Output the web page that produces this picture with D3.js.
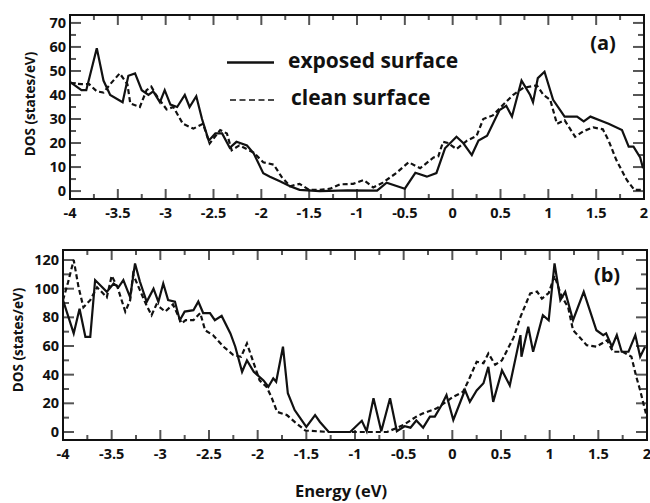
<!DOCTYPE html>
<html>
<head>
<meta charset="utf-8">
<script src="https://cdn.jsdelivr.net/npm/d3@7"></script>
<style>
  body { margin: 0; background: #fff; }
  text { font-family: "Open Sans", Lato, sans-serif; font-weight: bold; fill: #111; }
</style>
</head>
<body>
<div id="chart-area"></div>
<script>
// energy ticks shared by both panels
let energyTicks = [-4, -3.5, -3, -2.5, -2, -1.5, -1, -0.5, 0, 0.5, 1, 1.5, 2];

// panel (a): [energy, DOS]
let aExposed = [
  [-4, 45.5], [-3.88, 42], [-3.83, 42], [-3.72, 59.5], [-3.65, 46], [-3.58, 40],
  [-3.45, 37], [-3.39, 48], [-3.32, 49], [-3.25, 42], [-3.18, 40], [-3.13, 41.5],
  [-3.06, 37], [-3.01, 42], [-2.95, 36], [-2.88, 35], [-2.80, 40], [-2.75, 35],
  [-2.68, 39.5], [-2.62, 30], [-2.55, 21], [-2.48, 24], [-2.41, 24], [-2.33, 18],
  [-2.26, 20.5], [-2.15, 19], [-2.08, 15.7], [-1.98, 7.4], [-1.91, 6], [-1.80, 4],
  [-1.70, 2], [-1.60, 0.5], [-1.39, 0], [-1.1, 0.3], [-0.79, 0.2], [-0.69, 3.5],
  [-0.50, 1], [-0.39, 7.6], [-0.27, 6], [-0.17, 7.5], [-0.08, 17.8], [0.04, 22.6],
  [0.11, 20], [0.20, 15], [0.27, 21], [0.36, 23], [0.49, 33.7], [0.56, 35.5],
  [0.62, 31], [0.72, 46], [0.81, 40], [0.84, 37], [0.89, 47], [0.96, 49.7],
  [1.05, 38], [1.17, 31], [1.22, 31], [1.30, 31], [1.37, 29], [1.44, 31],
  [1.57, 29], [1.63, 28], [1.77, 25.4], [1.84, 18.5], [1.89, 18.5], [1.96, 14],
  [1.99, 9.5]
];
let aClean = [
  [-4, 45], [-3.88, 44.5], [-3.80, 44.5], [-3.72, 41.5], [-3.65, 41], [-3.58, 44.5],
  [-3.48, 49], [-3.40, 44.5], [-3.37, 36.5], [-3.27, 35], [-3.20, 42], [-3.15, 43.5],
  [-3.10, 40], [-2.99, 34], [-2.92, 35], [-2.82, 28], [-2.71, 26], [-2.61, 28],
  [-2.54, 19.8], [-2.43, 25.4], [-2.36, 24], [-2.31, 17], [-2.23, 19], [-2.08, 16],
  [-1.98, 12], [-1.87, 11], [-1.79, 6], [-1.70, 2], [-1.60, 3], [-1.50, 0.5],
  [-1.39, 0.5], [-1.28, 1], [-1.18, 2.8], [-1.04, 3], [-0.93, 4.6], [-0.83, 1.5],
  [-0.73, 3.5], [-0.59, 7.5], [-0.46, 12], [-0.34, 9.5], [-0.20, 14], [-0.15, 14.5],
  [-0.10, 20.5], [-0.05, 20], [0.04, 17.5], [0.15, 21], [0.25, 23], [0.32, 30],
  [0.42, 31.5], [0.53, 36], [0.63, 40], [0.74, 43], [0.88, 44], [0.95, 40],
  [1.02, 38], [1.09, 28], [1.17, 29.5], [1.28, 22.6], [1.37, 25], [1.47, 26.5],
  [1.57, 25.7], [1.63, 21], [1.71, 13], [1.82, 4.6], [1.90, 0.5], [1.99, 0.5]
];

// panel (b): [energy, DOS]
let bExposed = [
  [-4, 92], [-3.89, 68.8], [-3.83, 86], [-3.77, 66.4], [-3.72, 66.4], [-3.67, 106],
  [-3.55, 97.8], [-3.48, 103.6], [-3.43, 101], [-3.38, 106], [-3.31, 94], [-3.26, 117.6],
  [-3.21, 105], [-3.14, 90.8], [-3.07, 100], [-3.02, 90.8], [-2.97, 103.6], [-2.92, 92],
  [-2.85, 91], [-2.80, 78], [-2.75, 84], [-2.66, 85], [-2.61, 91], [-2.56, 83],
  [-2.49, 83], [-2.44, 78], [-2.37, 81], [-2.28, 68.8], [-2.23, 59.5], [-2.16, 42],
  [-2.11, 50], [-2.04, 42], [-1.94, 36], [-1.89, 31.6], [-1.84, 37.4], [-1.81, 35],
  [-1.74, 59.5], [-1.69, 27], [-1.62, 15.3], [-1.55, 8.4], [-1.50, 3.5], [-1.41, 11.8],
  [-1.36, 7], [-1.27, 0], [-1.05, 0], [-0.93, 7.8], [-0.88, 0.5], [-0.81, 23.5],
  [-0.73, 0.5], [-0.64, 23.5], [-0.57, 0.5], [-0.49, 4], [-0.43, 3], [-0.37, 8],
  [-0.30, 3], [-0.23, 10.7], [-0.18, 10.7], [-0.11, 18.8], [-0.06, 25.8], [0.01, 8.4],
  [0.13, 29.3], [0.18, 21], [0.25, 29], [0.32, 34], [0.37, 45.5], [0.42, 21],
  [0.51, 43], [0.59, 32.5], [0.70, 67.6], [0.71, 52.5], [0.78, 73.4], [0.83, 56],
  [0.93, 81.5], [0.99, 78], [1.05, 117.6], [1.11, 92], [1.16, 97.8], [1.24, 78],
  [1.35, 97.8], [1.48, 71], [1.55, 67.6], [1.58, 68.8], [1.64, 59.5], [1.69, 67.6],
  [1.74, 56], [1.81, 56], [1.88, 67.6], [1.93, 52.5], [1.98, 59.5]
];
let bClean = [
  [-4, 92], [-3.95, 104], [-3.89, 120], [-3.84, 101], [-3.79, 87], [-3.72, 92],
  [-3.65, 101], [-3.55, 94], [-3.50, 109], [-3.44, 101], [-3.36, 84], [-3.31, 92],
  [-3.28, 110], [-3.21, 99], [-3.14, 88], [-3.09, 81.5], [-3.04, 89], [-2.95, 84],
  [-2.87, 89], [-2.78, 75.8], [-2.74, 78], [-2.66, 78], [-2.59, 83], [-2.54, 71],
  [-2.46, 67.6], [-2.35, 59.5], [-2.25, 53.7], [-2.17, 52.5], [-2.11, 61.8], [-2.04, 47.9],
  [-1.98, 36], [-1.91, 31.6], [-1.86, 24.6], [-1.80, 14], [-1.70, 11.8], [-1.62, 7],
  [-1.51, 1], [-1.27, 0], [-0.67, 0], [-0.50, 5], [-0.37, 10.7], [-0.30, 13],
  [-0.16, 16.5], [0.01, 24.6], [0.11, 28], [0.16, 35], [0.25, 49], [0.32, 48],
  [0.37, 54.8], [0.44, 47], [0.51, 50], [0.63, 66], [0.70, 80.3], [0.80, 96.7],
  [0.87, 98], [0.92, 93], [0.99, 97], [1.05, 109], [1.12, 95], [1.19, 87],
  [1.24, 71], [1.31, 66], [1.38, 60.6], [1.48, 59.5], [1.59, 64], [1.65, 56],
  [1.75, 56], [1.84, 52.5], [1.89, 38.5], [1.93, 29], [1.98, 15.3], [2.0, 10]
];

let aYTicks = [0, 10, 20, 30, 40, 50, 60, 70];
let bYTicks = [0, 20, 40, 60, 80, 100, 120];
let legendLabels = ["exposed surface", "clean surface"];

let width = 650, height = 503;

let svg = d3.select("#chart-area")
    .append("svg")
        .attr("width", width)
        .attr("height", height);

function drawPanel(p) {
    let x = d3.scaleLinear().domain([-4, 2]).range([p.left, p.right]);
    let y = d3.scaleLinear().domain(p.yDomain).range([p.bottom, p.top]);

    let g = svg.append("g");

    // inward minor/major ticks on all four sides
    let xMinor = d3.range(-4, 2.001, 0.25);
    let yMinor = d3.range(0, p.yDomain[1], p.yMinorStep);

    let tickColor = "#555";
    xMinor.forEach((v) => {
        let major = Math.abs(v * 2 - Math.round(v * 2)) < 1e-6;
        let len = major ? 10 : 5;
        g.append("line").attr("x1", x(v)).attr("x2", x(v))
            .attr("y1", p.bottom).attr("y2", p.bottom - len)
            .attr("stroke", tickColor).attr("stroke-width", 2);
        g.append("line").attr("x1", x(v)).attr("x2", x(v))
            .attr("y1", p.top).attr("y2", p.top + len)
            .attr("stroke", tickColor).attr("stroke-width", 2);
    });
    yMinor.forEach((v) => {
        let major = p.yTicks.indexOf(Math.round(v * 100) / 100) >= 0;
        let len = major ? 11 : 6;
        g.append("line").attr("y1", y(v)).attr("y2", y(v))
            .attr("x1", p.left).attr("x2", p.left + len)
            .attr("stroke", tickColor).attr("stroke-width", 2);
        g.append("line").attr("y1", y(v)).attr("y2", y(v))
            .attr("x1", p.right).attr("x2", p.right - len)
            .attr("stroke", tickColor).attr("stroke-width", 2);
    });

    // tick labels
    g.selectAll(".xlab").data(energyTicks).enter()
        .append("text")
            .attr("x", (d) => x(d))
            .attr("y", p.bottom + 19)
            .attr("text-anchor", "middle")
            .attr("font-size", "14.5px")
            .text((d) => d);

    g.selectAll(".ylab").data(p.yTicks).enter()
        .append("text")
            .attr("x", p.left - 4)
            .attr("y", (d) => y(d) + 5)
            .attr("text-anchor", "end")
            .attr("font-size", "14.5px")
            .text((d) => d);

    g.append("text")
        .attr("transform", `translate(${p.titleX}, ${p.titleY}) rotate(-90)`)
        .attr("text-anchor", "middle")
        .attr("font-size", "13.5px")
        .text("DOS (states/eV)");

    let line = d3.line().x((d) => x(d[0])).y((d) => y(d[1]));

    g.append("path")
        .datum(p.clean)
        .attr("d", line)
        .attr("fill", "none")
        .attr("stroke", "#111")
        .attr("stroke-width", 2.2)
        .attr("stroke-dasharray", "5,3");

    g.append("path")
        .datum(p.exposed)
        .attr("d", line)
        .attr("fill", "none")
        .attr("stroke", "#111")
        .attr("stroke-width", 2.2);

    // frame
    g.append("rect")
        .attr("x", p.left).attr("y", p.top)
        .attr("width", p.right - p.left).attr("height", p.bottom - p.top)
        .attr("fill", "none").attr("stroke", "#111").attr("stroke-width", 2);

    g.append("text")
        .attr("x", p.tagX).attr("y", p.tagY)
        .attr("text-anchor", "middle")
        .attr("font-size", "20px")
        .text(p.tag);
}

drawPanel({
    left: 70, right: 644, top: 15, bottom: 199,
    yDomain: [-3.3, 73.3], yTicks: aYTicks, yMinorStep: 5,
    exposed: aExposed, clean: aClean,
    titleX: 35, titleY: 104, tag: "(a)", tagX: 603, tagY: 50
});

drawPanel({
    left: 63, right: 647, top: 250, bottom: 440,
    yDomain: [-5.6, 127], yTicks: bYTicks, yMinorStep: 10,
    exposed: bExposed, clean: bClean,
    titleX: 23, titleY: 340, tag: "(b)", tagX: 607, tagY: 282
});

// legend in panel (a)
let legend = svg.append("g");
legend.append("line")
    .attr("x1", 227).attr("x2", 274).attr("y1", 62.5).attr("y2", 62.5)
    .attr("stroke", "#111").attr("stroke-width", 2.5);
legend.append("line")
    .attr("x1", 230).attr("x2", 275).attr("y1", 100).attr("y2", 100)
    .attr("stroke", "#111").attr("stroke-width", 1.6).attr("stroke-dasharray", "6,3.5");
legend.append("text")
    .attr("x", 288).attr("y", 68)
    .attr("font-size", "21px")
    .text(legendLabels[0]);
legend.append("text")
    .attr("x", 291).attr("y", 105)
    .attr("font-size", "21px")
    .text(legendLabels[1]);

svg.append("text")
    .attr("x", 341).attr("y", 497)
    .attr("text-anchor", "middle")
    .attr("font-size", "16.5px")
    .text("Energy (eV)");
</script>
</body>
</html>
